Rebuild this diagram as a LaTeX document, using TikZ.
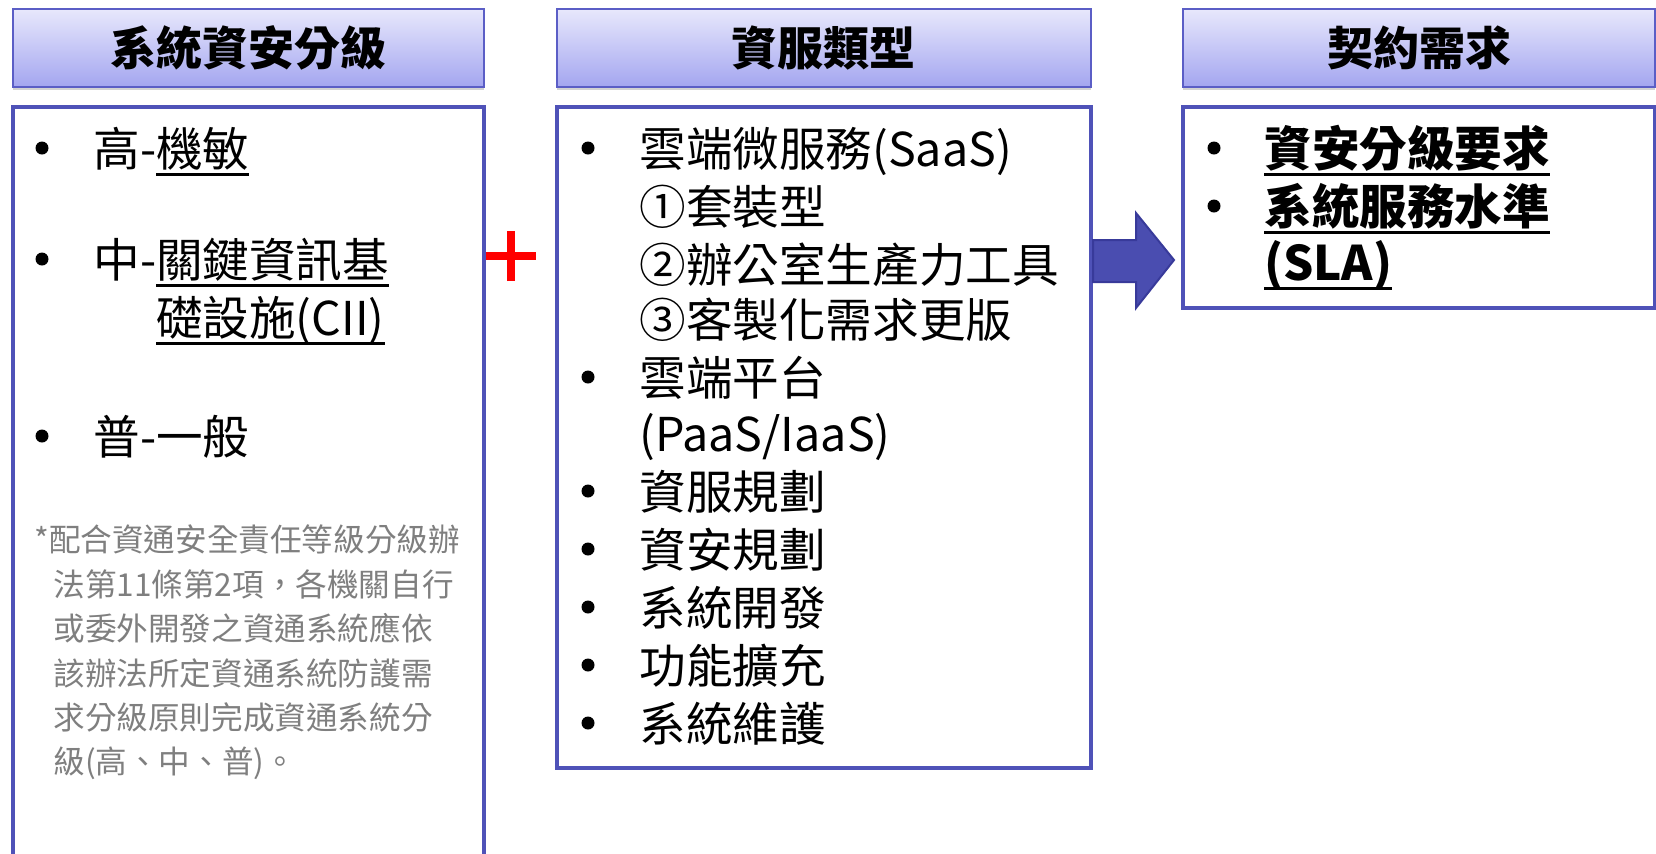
\documentclass[tikz,border=0pt]{standalone}
\usepackage{fontspec}
\setmainfont{Noto Sans CJK TC}
\usetikzlibrary{shadows}
\definecolor{bordc}{HTML}{4F52B8}
\definecolor{hbord}{HTML}{5B5EC6}
\definecolor{htop}{HTML}{E8E8FC}
\definecolor{hbot}{HTML}{A4A6F0}
\definecolor{arrowc}{HTML}{4A4DB0}
\definecolor{arrowb}{HTML}{383A9A}
\definecolor{notec}{HTML}{7F7F7F}
\definecolor{plusc}{HTML}{FF0000}
\newcommand\myul[1]{\sbox0{#1}\rlap{\usebox0}\rule[-0.22em]{\wd0}{1.6pt}}
\tikzset{
  hdr/.style={draw=hbord, line width=1pt, top color=htop, bottom color=hbot,
    minimum height=39pt, inner sep=0pt, font=\fontsize{23}{28}\selectfont\bfseries,
    drop shadow={shadow xshift=0pt, shadow yshift=-1.5pt, opacity=0.35}},
  pbox/.style={draw=bordc, line width=2pt, fill=white, inner sep=0pt},
  txt/.style={anchor=base west, inner sep=0pt, font=\fontsize{23.3}{28}\selectfont},
  btxt/.style={anchor=base west, inner sep=0pt, font=\fontsize{23.8}{28}\selectfont\bfseries},
  note/.style={anchor=base west, inner sep=0pt, text=notec, font=\fontsize{15.8}{18}\selectfont},
  bul/.style={circle, fill=black, inner sep=0pt, minimum size=6.5pt},
}
\begin{document}
\begin{tikzpicture}[x=0.5pt, y=-0.5pt]
\useasboundingbox (0,0) rectangle (1656,853);
% headers
\node[hdr, minimum width=235.5pt] (h1) at (248.2,47.5) {系統資安分級};
\node[hdr, minimum width=267.2pt] (h2) at (823.8,47.5) {資服類型};
\node[hdr, minimum width=236pt] (h3) at (1419,47.5) {契約需求};
% boxes
\node[pbox, minimum width=235.5pt, minimum height=386.65pt] (b1) at (248.2,493.35) {};
\node[pbox, minimum width=267.2pt, minimum height=330.55pt] (b2) at (823.8,437.25) {};
\node[pbox, minimum width=236pt, minimum height=100.85pt] (b3) at (1419,207.55) {};
% plus
\coordinate (pc) at (511,256);
\draw[plusc, line width=4pt] ([xshift=-12.5pt]pc) -- ([xshift=12.5pt]pc);
\draw[plusc, line width=4pt] ([yshift=-12.5pt]pc) -- ([yshift=12.5pt]pc);
% arrow
\draw[fill=arrowc, draw=arrowb, line width=1pt] (b2.east |- 0,240) -- (1136,240) -- (1136,213) -- (1174,260) -- (1136,308) -- (1136,282) -- (b2.east |- 0,282) -- cycle;
% box1 text
\node[bul] (bu11) at (42,148) {};
\node[txt] (t11) at (93,166) {高-\myul{機敏}};
\node[bul] (bu12) at (42,259) {};
\node[txt] (t12) at (93,277) {中-\myul{關鍵資訊基}};
\node[txt] (t13) at (93,335) {\phantom{中-}\myul{礎設施(CII)}};
\node[bul] (bu14) at (42,436) {};
\node[txt] (t14) at (93,454) {普-一般};
\node[note] (n1) at (34,551) {*配合資通安全責任等級分級辦};
\node[note] (n2) at (53,596) {法第11條第2項，各機關自行};
\node[note] (n3) at (53,640) {或委外開發之資通系統應依};
\node[note] (n4) at (53,685) {該辦法所定資通系統防護需};
\node[note] (n5) at (53,729) {求分級原則完成資通系統分};
\node[note] (n6) at (53,773) {級(高、中、普)。};
% box2 text
\node[bul] (bu21) at (588,148) {};
\node[txt] (t21) at (639,166) {雲端微服務(SaaS)};
\node[txt] (t22) at (639,224) {①套裝型};
\node[txt] (t23) at (639,282) {②辦公室生產力工具};
\node[txt] (t24) at (639,337) {③客製化需求更版};
\node[bul] (bu25) at (588,377) {};
\node[txt] (t25) at (639,395) {雲端平台};
\node[txt] (t26) at (639,451) {(PaaS/IaaS)};
\node[bul] (bu27) at (588,491) {};
\node[txt] (t27) at (639,509) {資服規劃};
\node[bul] (bu28) at (588,549) {};
\node[txt] (t28) at (639,567) {資安規劃};
\node[bul] (bu29) at (588,607) {};
\node[txt] (t29) at (639,625) {系統開發};
\node[bul] (bu210) at (588,665) {};
\node[txt] (t210) at (639,683) {功能擴充};
\node[bul] (bu211) at (588,723) {};
\node[txt] (t211) at (639,741) {系統維護};
% box3 text
\node[bul] (bu31) at (1214,148) {};
\node[btxt] (t31) at (1264,166) {\myul{資安分級要求}};
\node[bul] (bu32) at (1214,206) {};
\node[btxt] (t32) at (1264,224) {\myul{系統服務水準}};
\node[btxt] (t33) at (1264,280) {\myul{(SLA)}};
\end{tikzpicture}
\end{document}
